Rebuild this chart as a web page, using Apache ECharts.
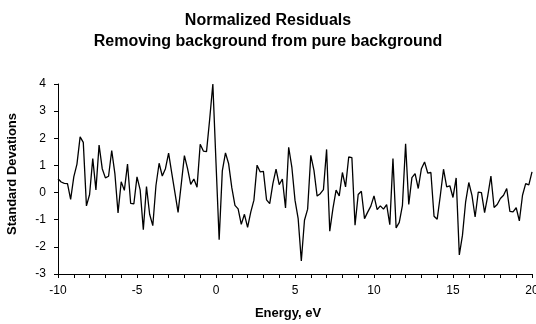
<!DOCTYPE html>
<html>
<head>
<meta charset="utf-8">
<script src="https://cdn.jsdelivr.net/npm/echarts@6/dist/echarts.min.js"></script>
<style>
html,body{margin:0;padding:0;background:#fff;}
#chart{width:536px;height:324px;}
</style>
</head>
<body>
<div id="chart"></div>
<script>
var titleLines = ['Normalized Residuals', 'Removing background from pure background'];
var xName = 'Energy, eV';
var yName = 'Standard Devations';
var xStart = -10;
var xStep = 0.2;
var residuals = [
  0.51, 0.39, 0.34, 0.33, -0.25, 0.58, 1.05, 2.05, 1.85, -0.49,
  -0.07, 1.25, 0.10, 1.75, 0.88, 0.54, 0.60, 1.55, 0.70, -0.75,
  0.40, 0.08, 1.05, -0.40, -0.42, 0.58, 0.10, -1.37, 0.22, -0.80,
  -1.22, 0.26, 1.08, 0.61, 0.88, 1.45, 0.72, 0.00, -0.73, 0.30,
  1.36, 0.88, 0.30, 0.50, 0.20, 1.78, 1.53, 1.51, 2.70, 4.00,
  1.10, -1.74, 0.80, 1.46, 1.06, 0.18, -0.47, -0.60, -1.17, -0.80,
  -1.28, -0.72, -0.28, 1.01, 0.76, 0.78, -0.27, -0.41, 0.33, 0.86,
  0.29, 0.50, -0.57, 1.67, 0.94, -0.28, -0.96, -2.52, -1.02, -0.61,
  1.37, 0.82, -0.13, -0.04, 0.11, 1.59, -1.42, -0.59, 0.09, -0.12,
  0.74, 0.21, 1.31, 1.29, -1.20, -0.07, 0.05, -0.96, -0.72, -0.50,
  -0.12, -0.63, -0.49, -0.61, -0.44, -1.18, 1.25, -1.30, -1.10, -0.47,
  1.80, -0.44, 0.55, 0.70, 0.15, 0.88, 1.13, 0.72, 0.74, -0.87,
  -0.98, -0.10, 0.86, 0.21, 0.25, -0.18, 0.54, -2.30, -1.57, -0.34,
  0.37, -0.10, -0.90, 0.02, 0.00, -0.74, -0.12, 0.61, -0.55, -0.44,
  -0.22, -0.10, 0.15, -0.69, -0.71, -0.56, -1.04, -0.10, 0.33, 0.28,
  0.76
];
var energies = residuals.map(function (v, i) { return +(xStart + i * xStep).toFixed(1); });
var points = residuals.map(function (v, i) { return [energies[i], v]; });

var font = 'Liberation Sans, Arial, sans-serif';
var chart = echarts.init(document.getElementById('chart'), null, {renderer: 'canvas'});
chart.setOption({
  animation: false,
  backgroundColor: '#ffffff',
  title: {
    text: titleLines.join('\n'),
    left: 'center',
    top: 5,
    textStyle: {fontFamily: font, fontSize: 16, fontWeight: 'bold', color: '#000', lineHeight: 21}
  },
  grid: {left: 58, right: 4, top: 84, bottom: 50, containLabel: false, outerBoundsMode: 'none'},
  xAxis: {
    type: 'value', min: -10, max: 20, interval: 5,
    name: xName, nameLocation: 'middle', nameGap: 33,
    nameTextStyle: {fontFamily: font, fontSize: 13, fontWeight: 'bold', color: '#000', padding: [0, 14, 0, 0]},
    axisLine: {show: true, onZero: false, lineStyle: {color: '#000', width: 1}},
    axisTick: {show: true, inside: false, length: 4, lineStyle: {color: '#000'}},
    minorTick: {show: true, splitNumber: 5, length: 4, lineStyle: {color: '#000'}},
    splitLine: {show: false},
    axisLabel: {fontFamily: font, fontSize: 12, color: '#000', margin: 11, hideOverlap: false}
  },
  yAxis: {
    type: 'value', min: -3, max: 4, interval: 1,
    name: yName, nameLocation: 'middle', nameGap: 39, nameRotate: 90,
    nameTextStyle: {fontFamily: font, fontSize: 13, fontWeight: 'bold', color: '#000', padding: [0, 0, 0, 10]},
    axisLine: {show: true, onZero: false, lineStyle: {color: '#000', width: 1}},
    axisTick: {show: true, inside: false, length: 4, lineStyle: {color: '#000'}},
    splitLine: {show: false},
    axisLabel: {fontFamily: font, fontSize: 12, color: '#000', margin: 12}
  },
  series: [{
    type: 'line',
    data: points,
    showSymbol: false,
    symbol: 'none',
    lineStyle: {color: '#000', width: 1.3},
    clip: false
  }]
});
</script>
</body>
</html>
